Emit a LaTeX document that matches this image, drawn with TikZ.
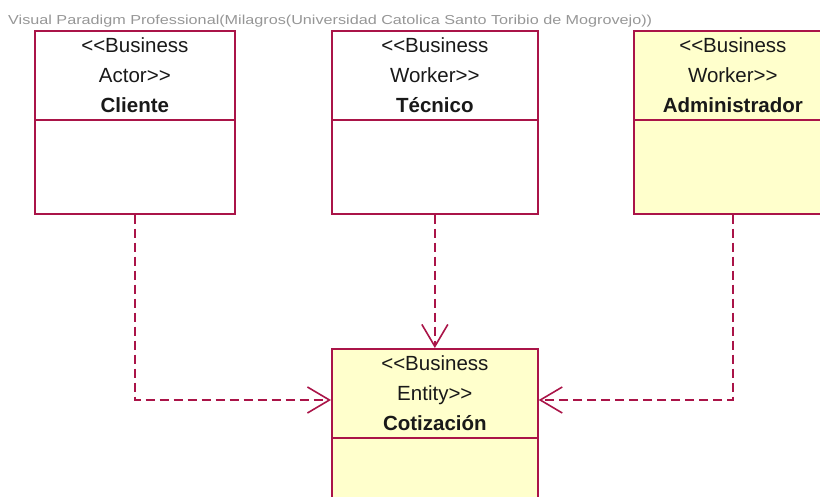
\documentclass[tikz,border=0pt]{standalone}
\usepackage{fontspec}
\setmainfont{Liberation Sans}[Ligatures=TeXOff]
\usetikzlibrary{arrows.meta,calc}
\definecolor{vpline}{RGB}{170,20,72}
\definecolor{vpfill}{RGB}{255,255,204}
\definecolor{vptext}{RGB}{25,25,25}
\definecolor{vpwm}{RGB}{150,150,150}
\tikzset{
  classbox/.style={draw=vpline, line width=1.7pt, rectangle, inner sep=0pt, anchor=north west},
  sepline/.style={draw=vpline, line width=1.7pt},
  stereo/.style={align=center, text=vptext, inner sep=0pt, font=\fontsize{20.5}{30}\selectfont},
  dep/.style={draw=vpline, line width=1.6pt, dash pattern=on 9pt off 5pt,
    -{Straight Barb[length=22pt,width=26pt]}},
}
\begin{document}
\begin{tikzpicture}[x=1pt,y=-1pt]
\useasboundingbox (0,0) rectangle (820,496);
\clip (0,0) rectangle (820,496);
% watermark
\node[anchor=base west, inner sep=0pt, text=vpwm] (wm) at (8,24)
  {\resizebox{644pt}{\height}{\fontsize{13}{13}\selectfont Visual Paradigm Professional(Milagros(Universidad Catolica Santo Toribio de Mogrovejo))}};
% boxes
\node[classbox, fill=white, minimum width=200pt, minimum height=183pt] (cliente) at (34,30) {};
\node[classbox, fill=white, minimum width=206pt, minimum height=183pt] (tecnico) at (331,30) {};
\node[classbox, fill=vpfill, minimum width=198pt, minimum height=183pt] (admin) at (633,30) {};
\node[classbox, fill=vpfill, minimum width=206pt, minimum height=200pt] (coti) at (331,348) {};
% separators
\foreach \b in {cliente,tecnico,admin,coti}
  \draw[sepline] ($(\b.north west)+(0,90)$) -- ($(\b.north east)+(0,90)$);
% texts
\node[stereo] (tcliente) at ($(cliente.north)+(0,45)$) {<<Business\\Actor>>\\\textbf{Cliente}};
\node[stereo] (ttecnico) at ($(tecnico.north)+(0,45)$) {<<Business\\Worker>>\\\textbf{Técnico}};
\node[stereo] (tadmin) at ($(admin.north)+(0,45)$) {<<Business\\Worker>>\\\textbf{Administrador}};
\node[stereo] (tcoti) at ($(coti.north)+(0,45)$) {<<Business\\Entity>>\\\textbf{Cotización}};
% dependencies
\draw[dep] (cliente.south) |- ($(coti.north west)+(0,52)$);
\draw[dep] (tecnico.south) -- (coti.north);
\draw[dep] (admin.south) |- ($(coti.north east)+(0,52)$);
\end{tikzpicture}
\end{document}
